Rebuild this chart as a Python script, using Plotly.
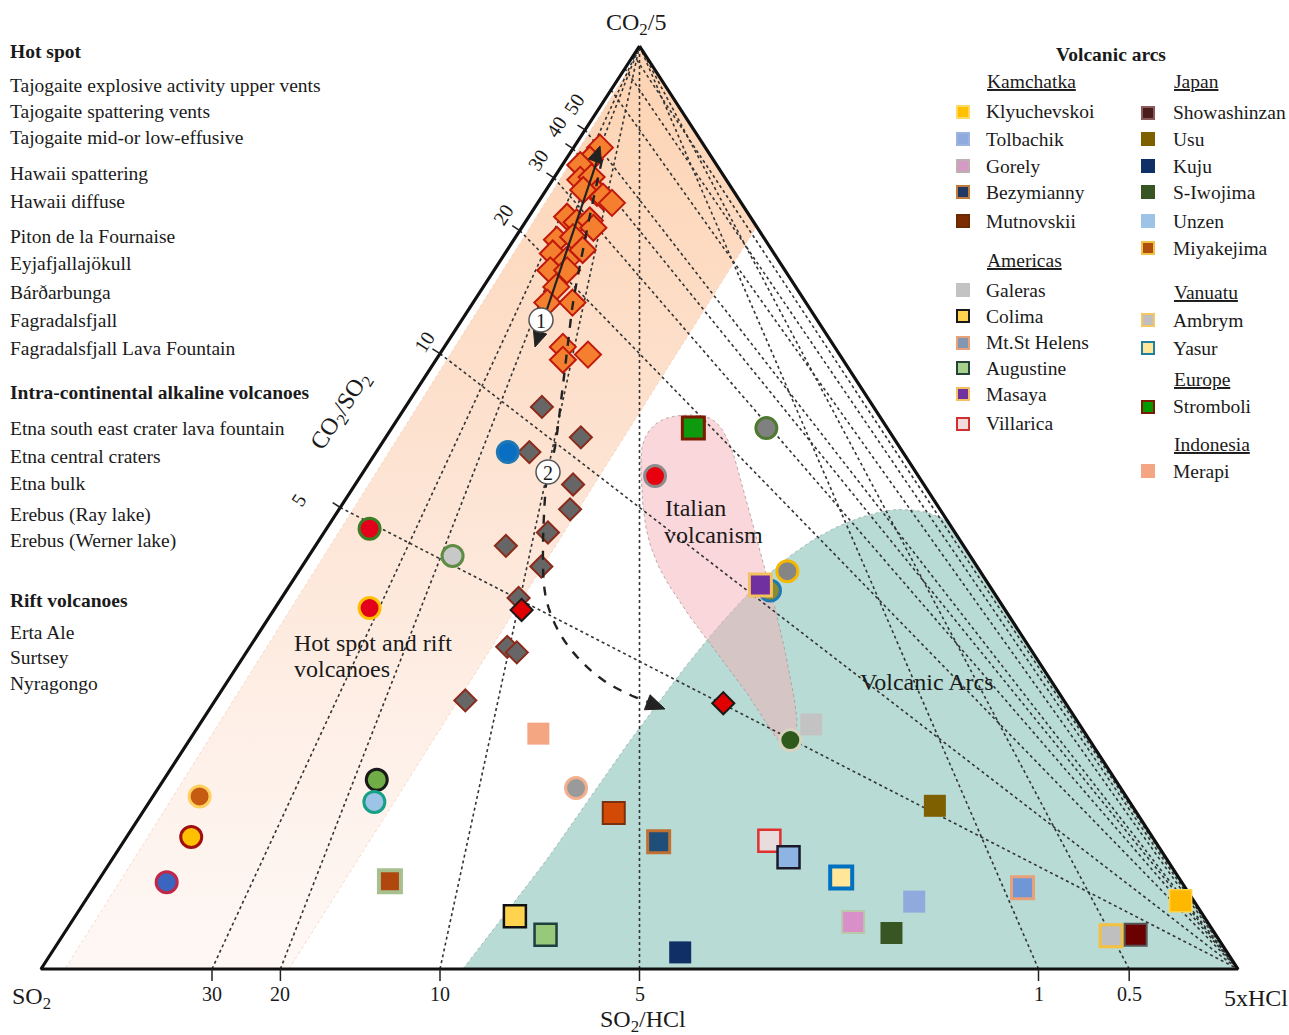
import math
import plotly.graph_objects as go

FONT = "Liberation Serif"
FIG_W, FIG_H = 1289, 1035

# ---------------------------------------------------------------------------
# Gas compositions, molar %  (CO2/5, SO2, 5xHCl)
# ---------------------------------------------------------------------------
# Hot-spot lava-fountain / spattering vents (orange diamonds)
hs_co2 = [88.9, 87.7, 87.1, 85.5, 85.8, 84.1, 84.4, 83.6, 83.0, 81.5, 80.9, 81.1, 80.3,
          79.0, 79.3, 77.6, 76.8, 77.9, 75.7, 75.7, 73.9, 72.2, 72.2, 67.4, 66.5, 66.0]
hs_so2 = [8.8, 10.3, 11.4, 12.2, 11.1, 11.5, 12.5, 11.2, 10.8, 15.3, 14.8, 13.6, 13.7,
          17.4, 15.9, 18.5, 17.7, 15.8, 19.6, 18.2, 20.0, 21.6, 19.5, 22.7, 21.0, 23.4]
hs_hcl = [2.2, 2.0, 1.5, 2.3, 3.1, 4.4, 3.1, 5.1, 6.2, 3.2, 4.3, 5.3, 6.0,
          3.6, 4.8, 4.0, 5.5, 6.3, 4.7, 6.1, 6.1, 6.2, 8.3, 9.9, 12.4, 10.6]

# Effusive / diffuse hot-spot emissions (grey diamonds)
eff_co2 = [60.9, 57.6, 56.0, 52.5, 49.8, 47.3, 45.8, 43.6, 40.2, 34.9, 34.3, 29.1]
eff_so2 = [27.7, 26.1, 31.2, 29.3, 30.9, 34.0, 38.2, 36.4, 40.0, 43.6, 43.1, 50.0]
eff_hcl = [11.4, 16.3, 12.8, 18.2, 19.3, 18.7, 15.9, 20.0, 19.8, 21.5, 22.6, 20.9]

# Lava-fountain end members (red diamonds)
lf_co2 = [38.9, 28.8]
lf_so2 = [40.4, 28.6]
lf_hcl = [20.7, 42.6]

# Intra-continental alkaline and rift volcanoes (circles)
circ_co2 = [56.0, 53.4, 58.6, 41.0, 43.1, 24.8, 47.7, 44.7, 39.1, 19.6, 18.7, 14.3, 9.4, 20.5, 18.1]
circ_so2 = [33.0, 22.0, 10.1, 18.6, 16.1, 25.0, 48.7, 43.2, 53.0, 45.5, 77.4, 80.3, 84.8, 61.7, 63.1]
circ_hcl = [11.0, 24.6, 31.3, 40.4, 40.8, 50.2, 3.6, 12.0, 7.9, 34.9, 3.9, 5.4, 5.8, 17.8, 18.8]
circ_fill = ["#0A6FC2", "#E8000F", "#808080", "#8A8A30", "#858585", "#2E5A1C", "#E4001B",
             "#C8C8C8", "#E4001B", "#9A9A9A", "#C55A11", "#FFC000", "#3A66C0", "#70AD47", "#9DC3E6"]
circ_edge = ["#1F77B4", "#8C8C8C", "#4E7A2F", "#1F77B4", "#F5B800", "#D8D2C0", "#3A7D22",
             "#5E8C45", "#FFC000", "#F2B08E", "#FFD060", "#A01010", "#C0284A", "#1A1A1A", "#17A086"]

# Volcanic-arc plumes (squares)
arc_name = ["Stromboli", "Masaya", "Galeras", "Merapi", "Miyakejima", "Mutnovskii", "Bezymianny",
            "Villarica", "Unzen", "Yasur", "Tolbachik", "Gorely", "S-Iwojima", "Kuju", "Colima",
            "Augustine", "Usu", "Mt.St Helens", "Klyuchevskoi", "Ambrym", "Showashinzan"]
arc_co2 = [58.6, 41.6, 26.5, 25.5, 9.5, 16.9, 13.8, 13.9, 12.1, 9.9, 7.3, 5.1, 3.9, 1.8, 5.7,
           3.7, 17.7, 8.8, 7.4, 3.6, 3.7]
arc_so2 = [16.2, 19.1, 22.4, 45.7, 66.1, 43.7, 41.5, 32.2, 31.5, 28.2, 23.4, 29.6, 27.0, 45.7, 57.5,
           56.0, 16.5, 13.6, 1.1, 8.8, 6.7]
arc_hcl = [25.2, 39.3, 51.1, 28.8, 24.4, 39.4, 44.7, 53.9, 56.4, 61.9, 69.3, 65.3, 69.1, 52.5, 36.7,
           40.3, 65.9, 77.6, 91.6, 87.6, 89.6]
arc_fill = ["#0E9A0E", "#7030A0", "#C3C3C3", "#F4A582", "#B0470F", "#D24A05", "#1F4E79",
            "#E8DCDC", "#8DB4E2", "#FFE699", "#8FAADC", "#D98FC8", "#375623", "#0F2F66", "#FFD34D",
            "#98C87A", "#7F6000", "#6F97D6", "#FFB800", "#BFBFBF", "#6B0000"]
arc_edge = ["#7A1A00", "#F5C060", "#C3C3C3", "#F4A582", "#A8C090", "#7A3010", "#C07030",
            "#E03030", "#1A1A2A", "#0070C0", "#8FAADC", "#B8C8A8", "#375623", "#0F2F66", "#111111",
            "#1F3F3F", "#7F6000", "#E8A07A", "#FFD040", "#F4C040", "#555555"]
arc_edge_w = [3, 3, 0, 0, 4, 2, 3, 2.5, 2.5, 4, 0, 2, 0, 0, 2.5, 2.5, 0, 3, 1.5, 3, 2]

# Reference ratio lines (labelled and unlabelled)
co2_so2_ratios = [5, 10, 20, 30, 40, 50]
co2_so2_extra = [100, 200, 500]
so2_hcl_ratios = [30, 20, 10, 5, 1, 0.5]

# Legend texts
hot_spot_items = ["Tajogaite explosive activity upper vents", "Tajogaite spattering vents",
                  "Tajogaite mid-or low-effusive", "Hawaii spattering", "Hawaii diffuse",
                  "Piton de la Fournaise", "Eyjafjallajökull", "Bárðarbunga", "Fagradalsfjall",
                  "Fagradalsfjall Lava Fountain"]
intra_items = ["Etna south east crater lava fountain", "Etna central craters", "Etna bulk",
               "Erebus (Ray lake)", "Erebus (Werner lake)"]
rift_items = ["Erta Ale", "Surtsey", "Nyragongo"]

kam_items = ["Klyuchevskoi", "Tolbachik", "Gorely", "Bezymianny", "Mutnovskii"]
kam_fill = ["#FFC000", "#8FAADC", "#D59BC6", "#1F3864", "#7B2C00"]
kam_edge = ["#FFD966", "#9DB4E0", "#BFB0B0", "#C07A3A", "#6B2A00"]
ame_items = ["Galeras", "Colima", "Mt.St Helens", "Augustine", "Masaya", "Villarica"]
ame_fill = ["#C3C3C3", "#FFD34D", "#8497B0", "#A9D18E", "#7030A0", "#F2DCDB"]
ame_edge = ["#C3C3C3", "#1A1A1A", "#E8A27A", "#24433A", "#F5C060", "#D03030"]
jap_items = ["Showashinzan", "Usu", "Kuju", "S-Iwojima", "Unzen", "Miyakejima"]
jap_fill = ["#4A1C1C", "#7F6000", "#0F2F66", "#375623", "#9DC3E6", "#B0500F"]
jap_edge = ["#8B5A5A", "#7F6000", "#0F2F66", "#375623", "#9DC3E6", "#F4C040"]
van_items = ["Ambrym", "Yasur"]
van_fill = ["#BFBFBF", "#FFE699"]
van_edge = ["#F4C862", "#1F7FA0"]
eur_items = ["Stromboli"]
eur_fill = ["#009900"]
eur_edge = ["#7A1A00"]
ind_items = ["Merapi"]
ind_fill = ["#F4A582"]
ind_edge = ["#F4A582"]

# ---------------------------------------------------------------------------
# Geometry helpers
# ---------------------------------------------------------------------------
BASE_L, BASE_R, BASE_Y, APEX_Y = 41, 1238, 969, 46      # triangle placement, px
SPAN_X, SPAN_Y = BASE_R - BASE_L, BASE_Y - APEX_Y
KEY_SIZE = 19.5
LABEL_SIZE = 24
TICK_SIZE = 20


def tern(co2, so2, hcl):
    s = co2 + so2 + hcl
    a, c = co2 / s, hcl / s
    return c + a / 2, a


def tern_many(c1, c2, c3):
    pts = [tern(*t) for t in zip(c1, c2, c3)]
    return [p[0] for p in pts], [p[1] for p in pts]


def pix(xp, yp):
    """page pixel -> axis units"""
    return (xp - BASE_L) / SPAN_X, (BASE_Y - yp) / SPAN_Y


def pp(xp, yp):
    """page pixel -> paper units"""
    return xp / FIG_W, 1 - yp / FIG_H


def smooth(pts, closed=False, n=12):
    P = list(pts)
    P = ([P[-1]] + P + [P[0], P[1]]) if closed else ([P[0]] + P + [P[-1]])
    out = []
    for i in range(1, len(P) - 2):
        p0, p1, p2, p3 = P[i - 1], P[i], P[i + 1], P[i + 2]
        for k in range(n):
            t = k / n
            q = []
            for d in range(2):
                q.append(0.5 * (2 * p1[d] + (-p0[d] + p2[d]) * t
                                + (2 * p0[d] - 5 * p1[d] + 4 * p2[d] - p3[d]) * t * t
                                + (-p0[d] + 3 * p1[d] - 3 * p2[d] + p3[d]) * t ** 3))
            out.append(tuple(q))
    out.append(P[-2])
    return out


def xy_from_px(points):
    conv = [pix(*p) for p in points]
    return [c[0] for c in conv], [c[1] for c in conv]


def paper_path(points, close=False):
    s = ""
    for i, p in enumerate(points):
        x, y = pp(*p)
        s += ("M" if i == 0 else "L") + f"{x:.5f},{y:.5f} "
    return s + ("Z" if close else "")


def arrow_head(tip, direction, length=17, half=7):
    dx, dy = direction
    n = math.hypot(dx, dy)
    ux, uy = dx / n, dy / n
    bx, by = tip[0] - ux * length, tip[1] - uy * length
    return paper_path([tip, (bx - uy * half, by + ux * half), (bx + uy * half, by - ux * half)], True)


fig = go.Figure()

# ---------------------------------------------------------------------------
# Fields
# ---------------------------------------------------------------------------
band_px = [(641, 50), (757, 226), (289, 969), (65, 969), (641, 50)]
bx, by = xy_from_px(band_px)
fig.add_trace(go.Scatter(
    x=bx, y=by, mode="lines", fill="toself",
    fillgradient=dict(type="vertical", start=0, stop=1,
                      colorscale=[[0, "#FEF8F5"], [0.25, "#FEF0E8"], [0.55, "#FDE3D2"],
                                  [0.8, "#FDDAC0"], [1, "#FDD3B2"]]),
    line=dict(color="rgba(240,195,170,0.6)", width=1, dash="dot"),
    hoverinfo="skip", showlegend=False))

teal_edge = [(463, 969), (545, 862), (627, 745), (707, 640), (770, 573), (825, 533),
             (880, 512), (920, 511), (948, 521)]
teal_pts = smooth(teal_edge) + [(1238, 969), (463, 969)]
tx, ty = xy_from_px(teal_pts)
fig.add_trace(go.Scatter(
    x=tx, y=ty, mode="lines", fill="toself", fillcolor="#B8DCD5",
    line=dict(color="rgba(150,170,165,0.8)", width=1, dash="dot"),
    hoverinfo="skip", showlegend=False))

italy_outline = [(641, 462), (646, 436), (662, 420), (688, 415), (713, 420), (730, 445),
                 (746, 500), (762, 558), (778, 620), (790, 676), (797, 722), (791, 744),
                 (778, 740), (752, 700), (718, 655), (684, 608), (658, 565), (645, 522)]
ix, iy = xy_from_px(smooth(italy_outline, closed=True))
fig.add_trace(go.Scatter(
    x=ix, y=iy, mode="lines", fill="toself", fillcolor="rgba(245,172,178,0.48)",
    line=dict(color="rgba(170,150,150,0.8)", width=1, dash="dot"),
    hoverinfo="skip", showlegend=False))

# ---------------------------------------------------------------------------
# Ratio lines
# ---------------------------------------------------------------------------
lx, ly = [], []
for r in co2_so2_ratios + co2_so2_extra:
    a = r / (5 + r)
    x0, y0 = tern(a, 1 - a, 0)
    x1, y1 = tern(0, 0, 1)
    lx += [x0, x1, None]
    ly += [y0, y1, None]
for r in so2_hcl_ratios:
    c = 5 / (5 + r)
    x0, y0 = tern(0, 1 - c, c)
    x1, y1 = tern(1, 0, 0)
    lx += [x0, x1, None]
    ly += [y0, y1, None]
fig.add_trace(go.Scatter(x=lx, y=ly, mode="lines",
                         line=dict(color="#333333", width=1.6, dash="dot"),
                         hoverinfo="skip", showlegend=False))

# triangle frame
vx, vy = tern_many([1, 0, 0, 1], [0, 1, 0, 0], [0, 0, 1, 0])
fig.add_trace(go.Scatter(x=vx, y=vy, mode="lines", line=dict(color="#111111", width=3.2),
                         hoverinfo="skip", showlegend=False))

# ticks
ex, ey = -0.8388, -0.5444        # outward normal of the left edge (px, y down)
tkx, tky = [], []
for r in so2_hcl_ratios:
    c = 5 / (5 + r)
    x0, y0 = tern(0, 1 - c, c)
    tkx += [x0, x0, None]
    tky += [y0, y0 - 12 / SPAN_Y, None]
for r in co2_so2_ratios:
    a = r / (5 + r)
    x0, y0 = tern(a, 1 - a, 0)
    tkx += [x0, x0 + ex * 9 / SPAN_X, None]
    tky += [y0, y0 - ey * 9 / SPAN_Y, None]
fig.add_trace(go.Scatter(x=tkx, y=tky, mode="lines", line=dict(color="#222222", width=1.5),
                         hoverinfo="skip", showlegend=False))

# ---------------------------------------------------------------------------
# Samples
# ---------------------------------------------------------------------------
x, y = tern_many(hs_co2, hs_so2, hs_hcl)
fig.add_trace(go.Scatter(x=x, y=y, mode="markers", name="Hot spot fountains",
                         marker=dict(symbol="diamond", size=20, color="#F47F2E",
                                     line=dict(color="#C0180C", width=2)), showlegend=False))
x, y = tern_many(eff_co2, eff_so2, eff_hcl)
fig.add_trace(go.Scatter(x=x, y=y, mode="markers", name="Hot spot effusive",
                         marker=dict(symbol="diamond", size=17, color="#666666",
                                     line=dict(color="#8B2A1A", width=2)), showlegend=False))
x, y = tern_many(lf_co2, lf_so2, lf_hcl)
fig.add_trace(go.Scatter(x=x, y=y, mode="markers", name="Lava fountain",
                         marker=dict(symbol="diamond", size=17, color="#E00000",
                                     line=dict(color="#1A1A1A", width=2)), showlegend=False))
x, y = tern_many(circ_co2, circ_so2, circ_hcl)
fig.add_trace(go.Scatter(x=x, y=y, mode="markers", name="Alkaline and rift",
                         marker=dict(symbol="circle", size=21, color=circ_fill,
                                     line=dict(color=circ_edge, width=3)), showlegend=False))
x, y = tern_many(arc_co2, arc_so2, arc_hcl)
fig.add_trace(go.Scatter(x=x, y=y, mode="markers", name="Volcanic arcs", text=arc_name,
                         marker=dict(symbol="square", size=22, color=arc_fill,
                                     line=dict(color=arc_edge, width=arc_edge_w)), showlegend=False))

# ---------------------------------------------------------------------------
# Degassing paths
# ---------------------------------------------------------------------------
shapes = []
shapes.append(dict(type="path", xref="paper", yref="paper",
                   path=paper_path([(598, 158), (538, 336)]),
                   line=dict(color="#222222", width=2.2)))
shapes.append(dict(type="path", xref="paper", yref="paper",
                   path=arrow_head((600, 146), (65, -195), 16, 7), fillcolor="#222222",
                   line=dict(color="#222222", width=1)))
shapes.append(dict(type="path", xref="paper", yref="paper",
                   path=arrow_head((535, 347), (-65, 195), 16, 7), fillcolor="#222222",
                   line=dict(color="#222222", width=1)))
path2 = [(602, 160), (590, 215), (580, 265), (573, 303), (568, 343), (562, 393), (555, 447),
         (548, 472), (545, 497), (543, 545), (544, 585), (550, 612), (562, 637), (580, 660),
         (603, 680), (628, 694), (648, 702)]
shapes.append(dict(type="path", xref="paper", yref="paper", path=paper_path(smooth(path2, n=6)),
                   line=dict(color="#222222", width=2.4, dash="dash")))
shapes.append(dict(type="path", xref="paper", yref="paper",
                   path=arrow_head((665, 709), (1, 0.38), 19, 8), fillcolor="#222222",
                   line=dict(color="#222222", width=1)))
for cx, cy in [(541, 320), (548, 472)]:
    x0, y0 = pp(cx - 12, cy + 12)
    x1, y1 = pp(cx + 12, cy - 12)
    shapes.append(dict(type="circle", xref="paper", yref="paper", x0=x0, y0=y0, x1=x1, y1=y1,
                       fillcolor="white", line=dict(color="#555555", width=1.5)))

annotations = []


def note(text, xp, yp, size=KEY_SIZE, xanchor="left", bold=False, angle=0, align="left",
         color="#1A1A1A"):
    xx, yy = pp(xp, yp)
    annotations.append(dict(text=f"<b>{text}</b>" if bold else text, x=xx, y=yy,
                            xref="paper", yref="paper", xanchor=xanchor, yanchor="middle",
                            showarrow=False, textangle=angle, align=align,
                            font=dict(family=FONT, size=size, color=color)))


note("1", 541, 321, size=20, xanchor="center")
note("2", 548, 473, size=20, xanchor="center")

# ---------------------------------------------------------------------------
# Axis labels
# ---------------------------------------------------------------------------
note("CO<sub>2</sub>/5", 636, 24, size=LABEL_SIZE, xanchor="center")
note("SO<sub>2</sub>", 31, 998, size=LABEL_SIZE, xanchor="center")
note("5xHCl", 1256, 998, size=LABEL_SIZE, xanchor="center")
note("SO<sub>2</sub>/HCl", 643, 1021, size=LABEL_SIZE, xanchor="center")
note("CO<sub>2</sub>/SO<sub>2</sub>", 341, 412, size=LABEL_SIZE, xanchor="center", angle=-57)

for r in so2_hcl_ratios:
    c = 5 / (5 + r)
    x0, y0 = tern(0, 1 - c, c)
    annotations.append(dict(text=f"{r:g}", x=x0, y=y0, xref="x", yref="y", yshift=-25,
                            showarrow=False, xanchor="center", yanchor="middle",
                            font=dict(family=FONT, size=TICK_SIZE, color="#1A1A1A")))
# label offsets (px) from each left-edge tick
edge_label_shift = {5: (-42, 8), 10: (-16, 12), 20: (-17, 16), 30: (-16, 18), 40: (-17, 22), 50: (-11, 26)}
for r in co2_so2_ratios:
    a = r / (5 + r)
    x0, y0 = tern(a, 1 - a, 0)
    sx, sy = edge_label_shift[r]
    annotations.append(dict(text=f"{r:g}", x=x0, y=y0, xref="x", yref="y",
                            xshift=sx, yshift=sy, textangle=-57,
                            showarrow=False, xanchor="center", yanchor="middle",
                            font=dict(family=FONT, size=TICK_SIZE, color="#1A1A1A")))

# Field names
note("Hot spot and rift", 292, 643, size=LABEL_SIZE)
note("volcanoes", 292, 669, size=LABEL_SIZE)
note("Italian", 663, 508, size=LABEL_SIZE)
note("volcanism", 662, 535, size=LABEL_SIZE)
note("Volcanic Arcs", 927, 682, size=LABEL_SIZE, xanchor="center")

# ---------------------------------------------------------------------------
# Left key
# ---------------------------------------------------------------------------
note("Hot spot", 8, 52, bold=True)
for label, yy in zip(hot_spot_items, [85, 111, 138, 173, 202, 237, 264, 292, 320, 348]):
    note(label, 8, yy)
note("Intra-continental alkaline volcanoes", 8, 392, bold=True)
for label, yy in zip(intra_items, [428, 456, 483, 515, 541]):
    note(label, 8, yy)
note("Rift volcanoes", 8, 600, bold=True)
for label, yy in zip(rift_items, [632, 657, 683]):
    note(label, 8, yy)

# ---------------------------------------------------------------------------
# Volcanic-arc key
# ---------------------------------------------------------------------------
note("Volcanic arcs", 1111, 54, bold=True, xanchor="center")


def key_group(title, items, fills, edges, sx, tx_, ty0, rows):
    note(f"<u>{title}</u>", tx_ + 1, ty0)
    for lab, fc, ec, yy in zip(items, fills, edges, rows):
        x0, y0 = pp(sx - 6, yy + 6)
        x1, y1 = pp(sx + 6, yy - 6)
        shapes.append(dict(type="rect", xref="paper", yref="paper", x0=x0, y0=y0, x1=x1, y1=y1,
                           fillcolor=fc, line=dict(color=ec, width=2)))
        note(lab, tx_, yy)


key_group("Kamchatka", kam_items, kam_fill, kam_edge, 963, 984, 82, [112, 139, 166, 192, 221])
key_group("Americas", ame_items, ame_fill, ame_edge, 963, 984, 260, [290, 316, 343, 368, 394, 424])
key_group("Japan", jap_items, jap_fill, jap_edge, 1148, 1171, 82, [113, 139, 166, 192, 221, 248])
key_group("Vanuatu", van_items, van_fill, van_edge, 1148, 1171, 292, [320, 348])
key_group("Europe", eur_items, eur_fill, eur_edge, 1148, 1171, 379, [407])
key_group("Indonesia", ind_items, ind_fill, ind_edge, 1148, 1171, 444, [471])

# ---------------------------------------------------------------------------
xl, _ = pix(0, 0)
xr, _ = pix(FIG_W, 0)
_, yb = pix(0, FIG_H)
_, yt = pix(0, 0)
fig.update_layout(
    width=FIG_W, height=FIG_H, margin=dict(l=0, r=0, t=0, b=0),
    paper_bgcolor="white", plot_bgcolor="white",
    xaxis=dict(range=[xl, xr], visible=False, fixedrange=True),
    yaxis=dict(range=[yb, yt], visible=False, fixedrange=True),
    showlegend=False, shapes=shapes, annotations=annotations,
    font=dict(family=FONT, color="#1A1A1A"),
)

fig.write_html("out.html")
